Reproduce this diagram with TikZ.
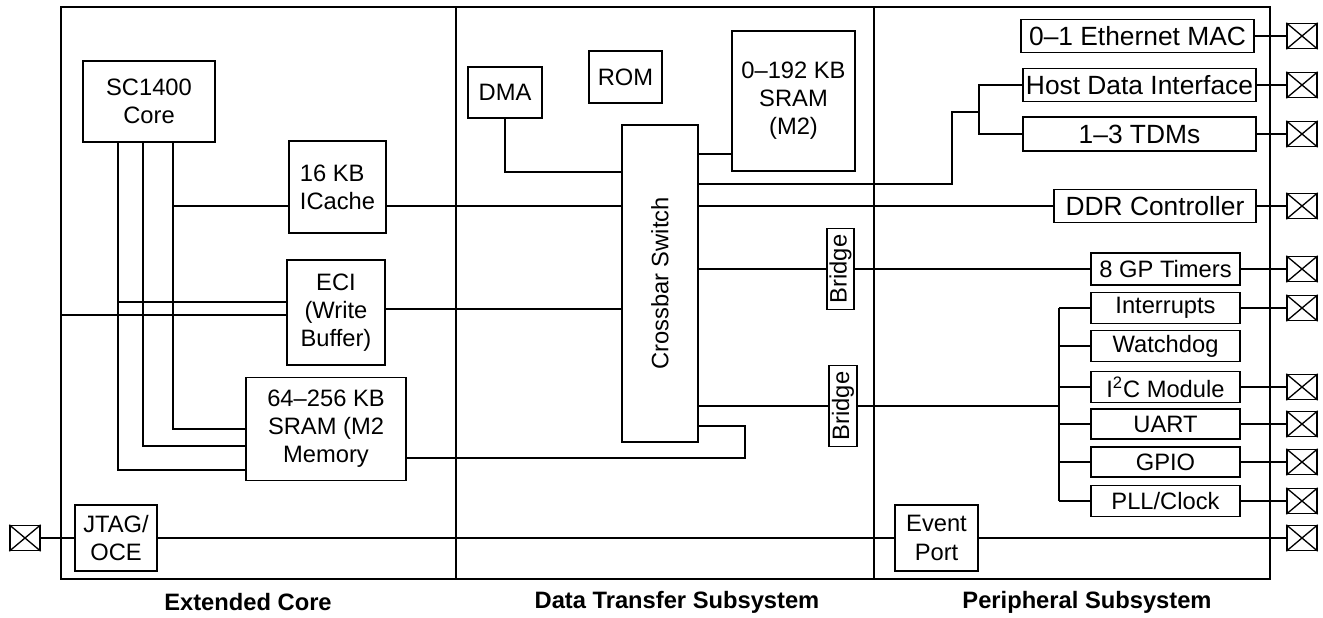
\documentclass[tikz,border=0pt]{standalone}
\usepackage{fontspec}
\setmainfont{Liberation Sans}
\begin{document}
\begin{tikzpicture}[
    x=0.02cm, y=-0.02cm,
    line width=0.75pt,
    sz/.style 2 args={minimum width=#1*0.02cm, minimum height=#2*0.02cm},
    blk/.style={draw, align=center, inner sep=0pt,
        font=\fontsize{13.5}{16}\selectfont},
    wide/.style={blk, font=\fontsize{15}{18}\selectfont},
    region/.style={draw, inner sep=0pt},
    title/.style={font=\fontsize{13.5}{16}\selectfont\bfseries},
    pad/.style={draw, inner sep=0pt, sz={30}{25}}
]
\useasboundingbox (0,0) rectangle (1323,618);

% Helper macro for an I/O pad: square with a cross
\newcommand{\iopad}[2]{% name, position
    \node[pad] (#1) at (#2) {};
    \draw (#1.north west) -- (#1.south east) (#1.south west) -- (#1.north east);
}

% Subsystem frames and titles
\node[region, sz={395}{572}] (ext) at (258.5,293) {};
\node[region, sz={418}{572}] (dts) at (665,293) {};
\node[region, sz={396}{572}] (per) at (1072,293) {};
\node[title] (extlbl) at (248,602) {Extended Core};
\node[title] (dtslbl) at (677,602) {Data Transfer Subsystem};
\node[title] (perlbl) at (1087,602) {Peripheral Subsystem};

% Extended core
\node[blk, sz={132}{81}] (core) at (149,101.5) {SC1400\\Core};
\node[blk, align=left, sz={97}{92}] (icache) at (337.5,187) {16 KB\\ICache};
\node[blk, sz={98}{105}] (eci) at (336,312.5) {ECI\\(Write\\Buffer)};
\node[blk, sz={160}{103}] (sram) at (326,429) {64--256 KB\\SRAM (M2\\Memory};
\node[blk, sz={82}{66}] (jtag) at (116,538) {JTAG/\\OCE};

% Data transfer subsystem
\node[blk, sz={74}{51}] (dma) at (505,92.5) {DMA};
\node[blk, sz={73}{52}] (rom) at (625.5,77) {ROM};
\node[blk, sz={123}{140}] (sramb) at (793.5,101) {0--192 KB\\SRAM\\(M2)};
\node[blk, sz={76}{317}] (xbar) at (660,283.5) {\rotatebox{90}{Crossbar Switch}};
\node[blk, sz={27}{81}] (brga) at (840.5,269) {\rotatebox{90}{Bridge}};
\node[blk, sz={28}{81}] (brgb) at (843,406) {\rotatebox{90}{Bridge}};

% Peripheral subsystem
\node[wide, sz={233}{33}] (emac) at (1137.5,36) {0--1 Ethernet MAC};
\node[wide, sz={233}{33}] (hdi) at (1139.5,85) {Host Data Interface};
\node[wide, sz={233}{34}] (tdm) at (1139.5,134) {1--3 TDMs};
\node[wide, sz={202}{33}] (ddr) at (1155,206) {DDR Controller};
\node[blk, sz={149}{32}] (gpt) at (1165.5,269) {8 GP Timers};
\node[blk, sz={149}{31}] (intr) at (1165.5,308) {Interrupts};
\node[blk, sz={149}{31}] (wdog) at (1165.5,346) {Watchdog};
\node[blk, sz={149}{31}] (i2c) at (1165.5,387) {I\textsuperscript{2}C Module};
\node[blk, sz={149}{30}] (uart) at (1165.5,424) {UART};
\node[blk, sz={149}{30}] (gpio) at (1165.5,462) {GPIO};
\node[blk, sz={149}{31}] (pll) at (1165.5,501) {PLL/Clock};
\node[blk, sz={83}{66}] (event) at (936.5,538) {Event\\Port};

% Tap columns, rows and bends
\coordinate (t1) at (118,0);
\coordinate (t2) at (143,0);
\coordinate (t3) at (173,0);
\coordinate (rI) at (0,206);
\coordinate (rA) at (0,302);
\coordinate (rB) at (0,315);
\coordinate (rE) at (0,309);
\coordinate (rK2) at (0,446);
\coordinate (rK1) at (0,470);
\coordinate (rM) at (0,458);
\coordinate (rD) at (0,172);
\coordinate (rS) at (0,154);
\coordinate (rH) at (0,184);
\coordinate (hk) at (952,112);
\coordinate (hj) at (979,112);
\coordinate (sk) at (745,426);
\coordinate (bus) at (1059,0);
\coordinate (px) at (1302,0);

% Core buses
\draw (core.south -| t3) |- (sram.west);
\draw (core.south -| t2) |- (sram.west |- rK2);
\draw (core.south -| t1) |- (sram.west |- rK1);
\draw (t3 |- rI) -- (icache.west |- rI);
\draw (t1 |- rA) -- (eci.west |- rA);
\draw (ext.west |- rB) -- (eci.west |- rB);

% Into the crossbar
\draw (icache.east |- rI) -- (xbar.west |- rI);
\draw (eci.east |- rE) -- (xbar.west |- rE);
\draw (dma.south) |- (xbar.west |- rD);
\draw (sram.east |- rM) -| (sk) -- (xbar.east |- sk);
\draw (xbar.east |- rS) -- (sramb.west |- rS);

% Out to the peripherals
\draw (xbar.east |- rH) -| (hk) -- (hj);
\draw (hdi.west) -| (hj) |- (tdm.west);
\draw (xbar.east |- ddr) -- (ddr);
\draw (xbar.east |- brga) -- (brga) -- (gpt);
\draw (xbar.east |- brgb) -- (brgb) -- (bus |- brgb);
\draw (bus |- intr) -- (bus |- pll);
\foreach \b in {intr,wdog,i2c,uart,gpio,pll}
    \draw (bus |- \b) -- (\b);

% I/O pads
\iopad{pjtag}{25,538}
\foreach \b in {emac,hdi,tdm,ddr,gpt,intr,i2c,uart,gpio,pll,event} {
    \iopad{p\b}{px |- \b}
    \draw (\b) -- (p\b);
}
\draw (pjtag) -- (jtag) -- (event);

\end{tikzpicture}
\end{document}
